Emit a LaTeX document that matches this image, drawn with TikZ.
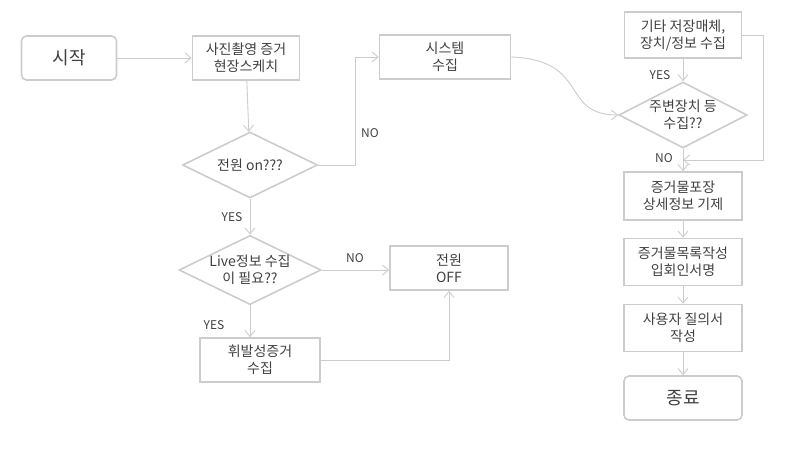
\documentclass[tikz,border=0pt]{standalone}
\usepackage{fontspec}
\setmainfont{Noto Sans CJK KR}
\usetikzlibrary{arrows.meta, shapes.geometric, positioning, calc}

\tikzset{
  box/.style={draw=gray!40, line width=1.6pt, minimum width=110pt, minimum height=44pt, align=center, font=\fontsize{14}{17}\selectfont, text=black!75},
  term/.style={box, rounded corners=5pt, font=\fontsize{18}{20}\selectfont},
  decide/.style={draw=gray!40, line width=1.6pt, diamond, aspect=2.05, minimum width=135pt, minimum height=66pt, inner sep=0pt, align=center, font=\fontsize{14}{17}\selectfont, text=black!75},
  conn/.style={draw=gray!40, line width=0.9pt, -{Straight Barb[length=6pt,width=10pt]}},
  lbl/.style={font=\fontsize{12}{14}\selectfont, text=black!75},
}

\begin{document}
\begin{tikzpicture}[x=1pt, y=-1pt]
  \useasboundingbox (0,0) rectangle (812,458);

  % left column
  \node[term, minimum width=95pt] (start) at (69,58) {시작};
  \node[box, minimum width=107pt] (photo) at (246,58) {사진촬영 증거\\현장스케치};
  \node[decide] (power) at (250,165) {전원 on???};
  \node[decide] (live) at (250,270) {Live정보 수집\\이 필요??};
  \node[box, minimum width=120pt] (volat) at (260,360) {휘발성증거\\수집};

  % middle
  \node[box, minimum width=131pt] (sys) at (445,57) {시스템\\수집};
  \node[box, minimum width=118pt] (off) at (449,268) {전원\\OFF};

  % right column
  \node[box, minimum width=117pt, minimum height=46pt] (other) at (683,35) {기타 저장매체,\\장치/정보 수집};
  \node[decide, minimum width=128pt] (periph) at (683,115) {주변장치 등\\수집??};
  \node[box, minimum width=118pt, minimum height=48pt] (pack) at (683,196) {증거물포장\\상세정보 기제};
  \node[box, minimum width=118pt, minimum height=47pt] (list) at (683,262) {증거물목록작성\\입회인서명};
  \node[box, minimum width=118pt, minimum height=47pt] (user) at (683,328) {사용자 질의서\\작성};
  \node[term, minimum width=118pt] (end) at (683,398) {종료};

  % connectors
  \draw[conn] (start) -- (photo);
  \draw[conn] (photo) -- (power);
  \draw[conn] (power.east) -- (355,165) |- (sys.west);
  \node[lbl] (no1) at (370,133) {NO};
  \draw[conn] (power) -- (live);
  \node[lbl] (yes1) at (232,217) {YES};
  \draw[conn] (live.east) -- (off.west |- live.east);
  \node[lbl] (no2) at (355,258) {NO};
  \draw[conn] (live) -- (volat.north -| live.south);
  \node[lbl] (yes2) at (214,325) {YES};
  \draw[conn] (volat.east) -| (off.south);
  \draw[conn] (sys.east) .. controls (590,60) and (560,115) .. (periph.west);
  \draw[conn] (other) -- (periph);
  \node[lbl] (yes3) at (660,75) {YES};
  \draw[conn] (other.east) -- (763,35) -- (763,160) -- (683,160);
  \draw[conn] (periph) -- (pack);
  \node[lbl] (no3) at (664,158) {NO};
  \draw[conn] (pack) -- (list);
  \draw[conn] (list) -- (user);
  \draw[conn] (user) -- (end);
\end{tikzpicture}
\end{document}
